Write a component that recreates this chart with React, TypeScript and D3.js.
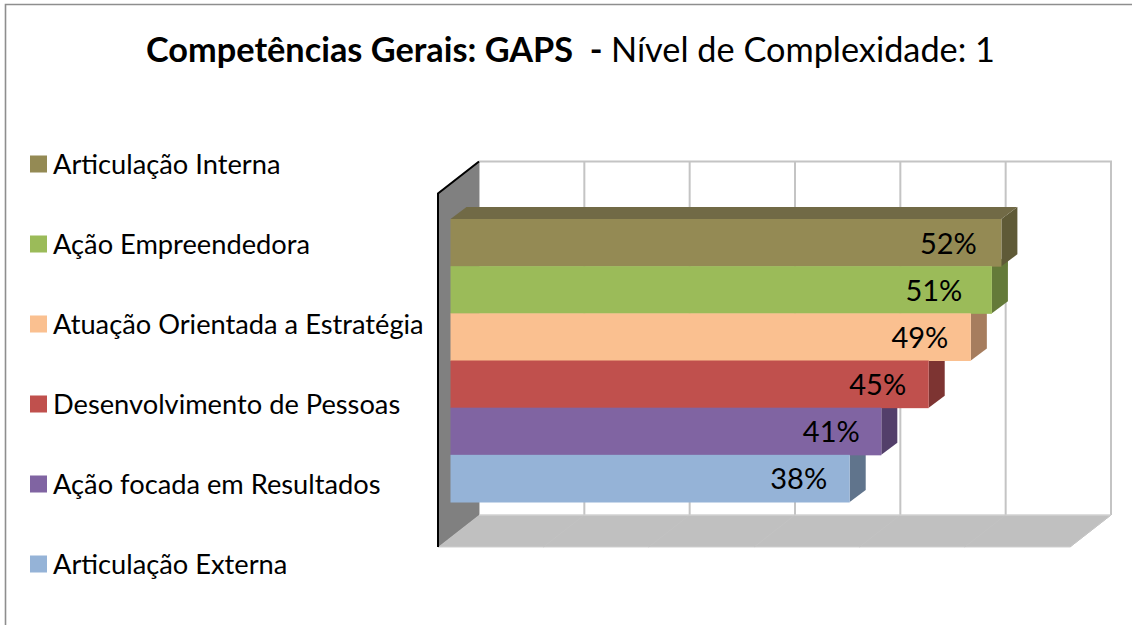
import React from "react";
import * as d3 from "d3";

const titleBold = "Competências Gerais: GAPS  - ";
const titleRegular = "Nível de Complexidade: 1";
const categories = ["Articulação Interna", "Ação Empreendedora", "Atuação Orientada a Estratégia", "Desenvolvimento de Pessoas", "Ação focada em Resultados", "Articulação Externa"];
const values = [52.3, 51.4, 49.4, 45.4, 40.9, 37.9];
const labelShift = [53, 58, 51, 51, 50, 51];
const frontColors = ["#948a54", "#9bbb59", "#fac090", "#c0504d", "#8064a2", "#95b3d7"];
const sideColors = ["#5f5a37", "#647a39", "#a67d5e", "#7d3432", "#533f6a", "#60748c"];
const topColor = "#716a46";
const gridTicks = [0, 10, 20, 30, 40, 50, 60];

const FONT = "Lato, Carlito, Calibri, sans-serif";
const back = { left: 479, right: 1111, top: 161.5, bottom: 515 };
const depth = { dx: -41, dy: 32 };
const barDepth = { dx: 16, dy: -12 };

const wallX = d3.scaleLinear().domain([0, 60]).range([back.left, back.right]);
const barX = d3.scaleLinear().domain([0, 60]).range([450.5, 450.5 + (back.right - back.left)]);
const barY = d3.scaleBand<string>().domain(categories).range([219, 502]).padding(0);
const legendY = d3.scalePoint<string>().domain(categories).range([164, 564]);
const poly = (pts: [number, number][]) => (d3.line()(pts) || "") + "Z";

export default function App() {
  const h = barY.bandwidth();
  return (
    <svg width={1132} height={625} viewBox="0 0 1132 625" style={{ position: "absolute", left: 0, top: 0, background: "#fff", fontFamily: FONT }}>
      <path d="M5.5,625V4.5H1132" fill="none" stroke="#8e8e8e" strokeWidth={1.6} />
      <text x={570.5} y={62} textAnchor="middle" fontSize={34.3} fill="#000" xmlSpace="preserve">
        <tspan fontWeight={700}>{titleBold}</tspan>
        <tspan>{titleRegular}</tspan>
      </text>

      {categories.map((c, i) => (
        <g key={c}>
          <rect x={30} y={legendY(c)! - 8.5} width={17} height={17} fill={frontColors[i]} />
          <text x={53} y={legendY(c)! + 10} fontSize={27.25} fill="#000">{c}</text>
        </g>
      ))}

      <path d={poly([[back.left, back.bottom], [back.right, back.bottom], [back.right + depth.dx, back.bottom + depth.dy], [back.left + depth.dx, back.bottom + depth.dy]])} fill="#c0c0c0" stroke="#cfcfcf" strokeWidth={1} />
      {gridTicks.map((t) => (
        <g key={t}>
          <line x1={wallX(t)} x2={wallX(t)} y1={back.top} y2={back.bottom} stroke="#c4c4c4" strokeWidth={2} />
          <line x1={wallX(t)} x2={wallX(t) + depth.dx} y1={back.bottom} y2={back.bottom + depth.dy} stroke="#c3c3c3" strokeWidth={1} />
        </g>
      ))}
      <line x1={back.left} x2={back.right + 1} y1={back.top} y2={back.top} stroke="#c4c4c4" strokeWidth={2} />
      <line x1={back.left} x2={back.right} y1={back.bottom} y2={back.bottom} stroke="#d2d2d2" strokeWidth={1} />

      <path d={poly([[back.left, back.top], [back.left, back.bottom], [back.left + depth.dx, back.bottom + depth.dy], [back.left + depth.dx, back.top + depth.dy]])} fill="#808080" />
      <path d={`M${back.left + depth.dx},${back.bottom + depth.dy}V${back.top + depth.dy}L${back.left},${back.top}`} fill="none" stroke="#000" strokeWidth={2} />

      {categories.map((c, i) => ({ c, i })).reverse().map(({ c, i }) => {
        const x1 = barX(values[i]);
        const y0 = barY(c)!;
        return (
          <path key={c} d={poly([[x1, y0], [x1 + barDepth.dx, y0 + barDepth.dy], [x1 + barDepth.dx, y0 + h + barDepth.dy], [x1, y0 + h]])} fill={sideColors[i]} />
        );
      })}
      <path d={poly([[barX(0), barY(categories[0])!], [barX(0) + barDepth.dx, barY(categories[0])! + barDepth.dy], [barX(values[0]) + barDepth.dx, barY(categories[0])! + barDepth.dy], [barX(values[0]), barY(categories[0])!]])} fill={topColor} />
      {categories.map((c, i) => (
        <rect key={c} x={barX(0)} y={barY(c)!} width={barX(values[i]) - barX(0)} height={h + 0.5} fill={frontColors[i]} />
      ))}
      {categories.map((c, i) => (
        <text key={c} x={barX(values[i]) - labelShift[i]} y={barY(c)! + h / 2 + 11} textAnchor="middle" fontSize={29} fill="#000">
          {d3.format(".0f")(values[i])}%
        </text>
      ))}
    </svg>
  );
}
